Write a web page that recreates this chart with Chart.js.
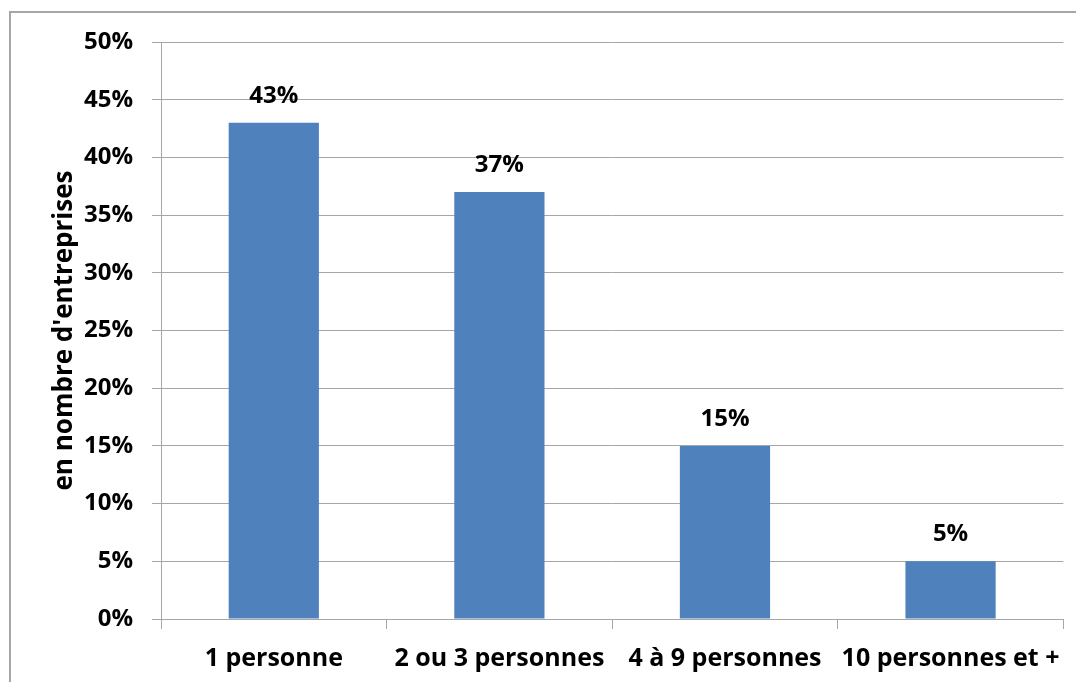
<!DOCTYPE html>
<html>
<head>
<meta charset="utf-8">
<script src="https://cdn.jsdelivr.net/npm/chart.js@4"></script>
<style>
  html, body { margin: 0; padding: 0; background: #fff; }
  #wrap { position: relative; width: 1076px; height: 682px; overflow: hidden; }
  #frame { position: absolute; left: 9px; top: 11px; width: 1100px; height: 700px; border: 2px solid #a6a6a6; box-sizing: border-box; }
  canvas { position: absolute; left: 0; top: 0; }
</style>
</head>
<body>
<div id="wrap">
  <div id="frame"></div>
  <canvas id="chart" width="1076" height="682"></canvas>
</div>
<script>
const categories = ['1 personne', '2 ou 3 personnes', '4 à 9 personnes', '10 personnes et +']
const shares = [43, 37, 15, 5]
const axisTitle = "en nombre d'entreprises"

const FONT = "'Open Sans', 'DejaVu Sans', sans-serif"
const gray = '#a6a6a6'

const valueLabels = {
  id: 'valueLabels',
  afterDatasetsDraw(chart) {
    const ctx = chart.ctx
    const meta = chart.getDatasetMeta(0)
    ctx.save()
    ctx.font = 'bold 24px ' + FONT
    ctx.fillStyle = '#000'
    ctx.textAlign = 'center'
    ctx.textBaseline = 'alphabetic'
    meta.data.forEach((bar, i) => {
      ctx.fillText(shares[i] + '%', bar.x, bar.y - 20)
    })
    ctx.restore()
  }
}

new Chart(document.getElementById('chart'), {
  type: 'bar',
  data: {
    labels: categories,
    datasets: [{
      data: shares,
      backgroundColor: '#4f81bd',
      borderWidth: 0,
      barPercentage: 0.4,
      categoryPercentage: 1.0
    }]
  },
  options: {
    responsive: false,
    animation: false,
    layout: { padding: { top: 42, right: 12, left: 0, bottom: 0 } },
    plugins: {
      legend: { display: false },
      tooltip: { enabled: false }
    },
    scales: {
      x: {
        afterFit(s) { s.height = 63 },
        grid: { drawOnChartArea: false, tickLength: 10, color: gray, offset: true },
        border: { color: gray, width: 1 },
        ticks: { color: '#000', font: { family: FONT, size: 25, weight: 'bold' }, padding: 15, maxRotation: 0 }
      },
      y: {
        min: 0,
        max: 50,
        afterFit(s) { s.width = 161 },
        grid: { color: gray, tickLength: 9 },
        border: { color: gray, width: 1 },
        ticks: {
          stepSize: 5,
          color: '#000',
          padding: 19,
          font: { family: FONT, size: 24, weight: 'bold' },
          callback: v => v + '%'
        },
        title: {
          display: true,
          text: axisTitle,
          color: '#000',
          font: { family: FONT, size: 26, weight: 'bold' },
          padding: { top: 49, bottom: 0 }
        }
      }
    }
  },
  plugins: [valueLabels]
})
</script>
</body>
</html>
